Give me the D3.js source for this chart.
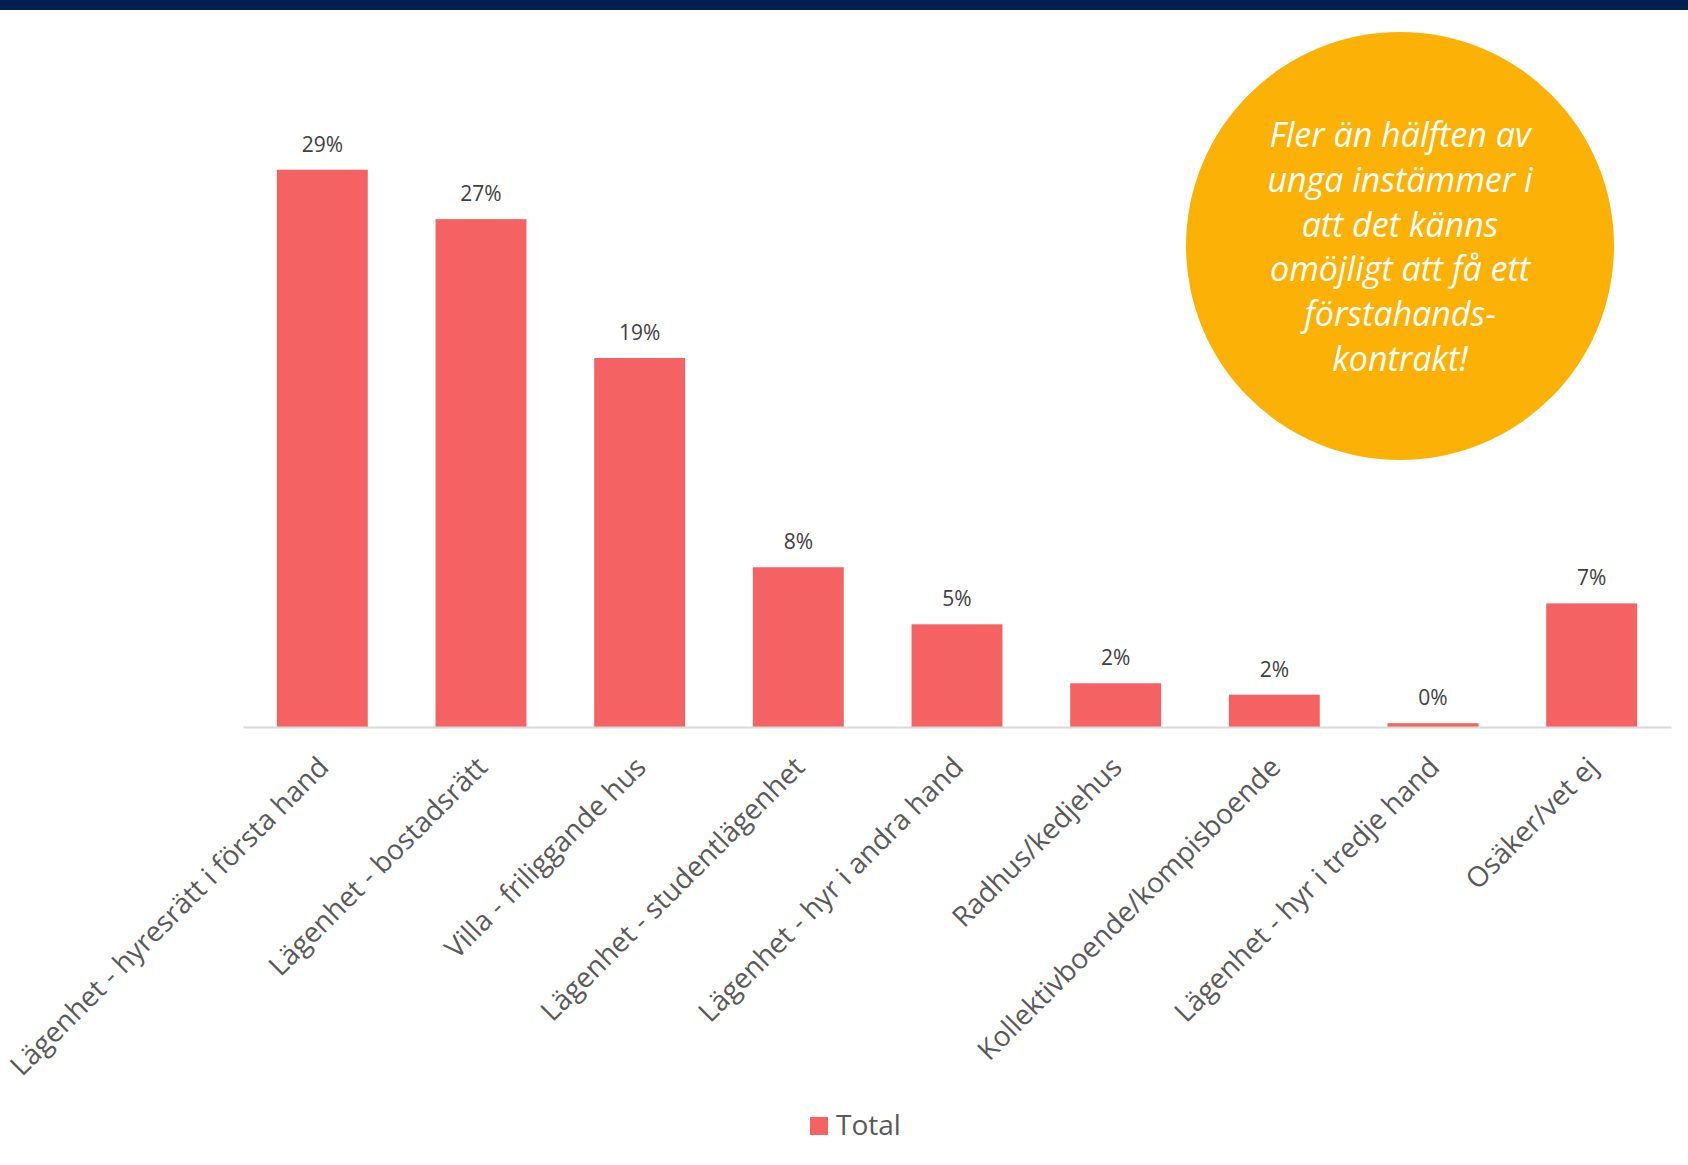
<!DOCTYPE html>
<html>
<head>
<meta charset="utf-8">
<script src="https://cdn.jsdelivr.net/npm/d3@7"></script>
<style>
  html, body { margin: 0; padding: 0; background: #fff; }
  svg { display: block; font-family: "Open Sans", sans-serif; }
</style>
</head>
<body>
<div id="chart"></div>
<script>
// data (percent)
var categories = [
    'Lägenhet - hyresrätt i första hand',
    'Lägenhet - bostadsrätt',
    'Villa - friliggande hus',
    'Lägenhet - studentlägenhet',
    'Lägenhet - hyr i andra hand',
    'Radhus/kedjehus',
    'Kollektivboende/kompisboende',
    'Lägenhet - hyr i tredje hand',
    'Osäker/vet ej'
];
var values = [29.3, 26.7, 19.4, 8.4, 5.4, 2.3, 1.7, 0.2, 6.5];
var seriesName = 'Total';
var calloutLines = [
    'Fler än hälften av',
    'unga instämmer i',
    'att det känns',
    'omöjligt att få ett',
    'förstahands-',
    'kontrakt!'
];

var W = 1688, H = 1165;
var barColor = '#f56264';

var svg = d3.select('#chart')
    .append('svg')
    .attr('width', W)
    .attr('height', H);

// top navy band
svg.append('rect')
    .attr('x', 0).attr('y', 0)
    .attr('width', W).attr('height', 10)
    .attr('fill', '#001e50');

var x = d3.scaleBand()
    .domain(categories)
    .range([243, 1671])
    .paddingInner(0.427)
    .paddingOuter(0.2135);

var y = d3.scaleLinear()
    .domain([0, 30])
    .range([727, 727 - 19.02 * 30]);

var plot = svg.append('g');

plot.selectAll('rect.bar')
    .data(values)
    .enter()
    .append('rect')
    .attr('class', 'bar')
    .attr('x', (d, i) => x(categories[i]))
    .attr('y', d => y(d))
    .attr('width', x.bandwidth())
    .attr('height', d => y(0) - y(d))
    .attr('fill', barColor);

// value labels
plot.selectAll('text.val')
    .data(values)
    .enter()
    .append('text')
    .attr('class', 'val')
    .attr('x', (d, i) => x(categories[i]) + x.bandwidth() / 2)
    .attr('y', d => y(d) - 18)
    .attr('text-anchor', 'middle')
    .attr('font-size', 21)
    .attr('fill', '#404040')
    .text(d => Math.round(d) + '%');

// x axis
var xAxis = d3.axisBottom(x).tickSize(0).tickPadding(0);
var gx = svg.append('g')
    .attr('class', 'x axis')
    .attr('transform', 'translate(0,' + y(0) + ')')
    .call(xAxis);

gx.select('.domain')
    .attr('stroke', '#d9d9d9')
    .attr('stroke-width', 2);

gx.selectAll('.tick text')
    .attr('font-family', '"Open Sans", sans-serif')
    .attr('font-size', 28)
    .attr('fill', '#595959')
    .attr('text-anchor', 'end')
    .attr('dy', 0)
    .attr('transform', 'translate(8,42) rotate(-45)');

// callout circle
var callout = svg.append('g').attr('transform', 'translate(1400,246)');
callout.append('circle')
    .attr('r', 214)
    .attr('fill', '#fbb106');

callout.append('text')
    .attr('text-anchor', 'middle')
    .attr('font-size', 34)
    .attr('font-style', 'italic')
    .attr('fill', '#ffffff')
    .selectAll('tspan')
    .data(calloutLines)
    .enter()
    .append('tspan')
    .attr('x', 0)
    .attr('y', (d, i) => -99 + i * 44.8)
    .text(d => d);

// legend
var legend = svg.append('g').attr('transform', 'translate(810,1117)');
legend.append('rect')
    .attr('width', 18).attr('height', 18)
    .attr('fill', barColor);
legend.append('text')
    .attr('x', 26)
    .attr('y', 18)
    .attr('font-size', 28)
    .attr('fill', '#595959')
    .text(seriesName);
</script>
</body>
</html>
